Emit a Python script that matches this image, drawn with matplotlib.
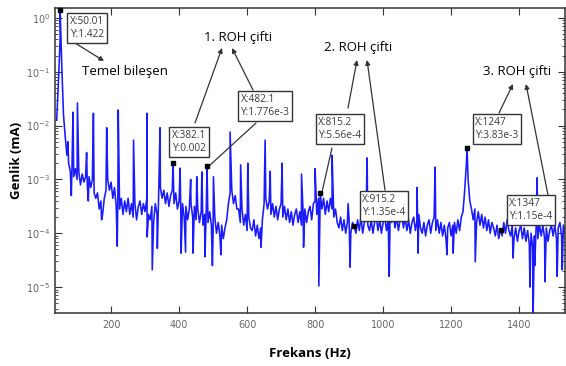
import numpy as np
import matplotlib.pyplot as plt

# spectrum baseline, log10 of amplitude, every 5 Hz starting at 40 Hz
f_start, f_step = 40, 5
base_log = [
    -1.9, -1.2, -0.4, -0.9, -1.8, -2.2, -2.55, -2.7, -2.85, -2.75, -2.95, -2.8,
    -3.0, -2.85, -3.1, -2.9, -3.05, -2.95, -3.1, -2.95, -3.15, -3.0, -3.25, -3.35, -3.25, -3.55, -3.4, -3.65, -3.35, -3.2, -3.0, -3.2,
    -3.05, -3.35, -3.15, -3.5, -3.25, -3.55, -3.35, -3.65, -3.4, -3.6, -3.35, -3.65, -3.45, -3.7, -3.45, -3.75, -3.5, -3.4, -3.65, -3.45,
    -3.6, -3.35, -3.65, -3.75, -3.5, -3.8, -3.45, -3.65, -3.25, -3.15, -3.35, -3.2, -3.45, -3.25, -3.5, -3.3, -3.2, -3.45, -3.25, -3.55,
    -3.4, -3.65, -3.45, -3.7, -3.5, -3.75, -3.55, -3.45, -3.7, -3.5, -3.75, -3.55, -3.8, -3.6, -3.85, -3.65, -3.55, -3.8, -3.6, -3.85,
    -3.95, -3.7, -4.0, -3.8, -4.05, -3.85, -4.1, -3.9, -3.75, -3.45, -3.25, -3.2, -3.45, -3.3, -3.55, -3.55, -3.8, -3.55, -3.85, -3.65,
    -3.95, -3.7, -3.9, -3.95, -3.75, -4.05, -3.85, -4.1, -3.9, -3.75, -3.45, -3.35, -3.55, -3.4, -3.65, -3.45, -3.7, -3.5, -3.75, -3.55,
    -3.45, -3.7, -3.5, -3.75, -3.55, -3.8, -3.6, -3.85, -3.65, -3.55, -3.8, -3.6, -3.85, -3.65, -3.55, -3.8, -3.6, -3.5, -3.75, -3.45,
    -3.4, -3.65, -3.35, -3.3, -3.55, -3.35, -3.65, -3.4, -3.6, -3.35, -3.55, -3.7, -3.55, -3.8, -3.9, -3.7, -3.95, -3.75, -4.0, -3.8,
    -3.75, -4.0, -3.8, -3.87, -4.0, -3.75, -3.95, -3.7, -4.0, -3.8, -3.65, -3.85, -3.95, -3.75, -4.0, -3.8, -3.7, -3.95, -3.75, -4.0,
    -3.8, -3.7, -3.95, -3.75, -4.0, -3.8, -3.65, -3.9, -3.7, -3.95, -3.75, -3.65, -3.9, -3.7, -3.95, -3.75, -4.0, -3.8, -3.7, -3.95,
    -3.75, -3.65, -3.9, -4.0, -3.8, -4.05, -3.85, -3.75, -4.0, -3.8, -3.7, -3.95, -3.75, -4.0, -3.8, -4.05, -3.85, -4.1, -3.9, -3.8,
    -4.05, -3.85, -3.8, -4.0, -3.75, -3.95, -3.7, -3.6, -3.2, -2.7, -3.0, -3.4, -3.55, -3.75, -3.55, -3.8, -3.6, -3.85, -3.65, -3.9,
    -3.7, -3.95, -3.75, -4.0, -3.8, -3.9, -4.05, -3.85, -4.1, -3.94, -4.05, -3.8, -4.0, -3.75, -3.95, -4.05, -3.85, -4.1, -3.9, -4.15,
    -3.95, -3.85, -4.1, -3.9, -4.15, -3.95, -4.2, -4.0, -4.25, -4.05, -3.9, -4.1, -3.85, -4.05, -3.85, -4.1, -3.9, -4.15, -3.95, -3.85,
    -4.05, -3.85, -4.1, -3.9, -3.8, -4.05, -3.85, -4.0,
]

# narrow harmonic spikes (Hz, log10 amplitude)
spike_freq = [73, 88, 101, 128, 148, 187, 221, 266, 305, 344, 403, 434, 452, 467, 501,
              550, 581, 602, 653, 668, 703, 760, 800, 850, 897, 953, 1020, 1100, 1153, 1453]
spike_log = [-2.3, -1.75, -1.58, -2.5, -1.77, -2.04, -1.71, -2.27, -1.77, -2.04, -2.79, -3.0, -2.95, -2.86, -2.95,
             -2.12, -2.73, -2.7, -2.27, -2.85, -2.7, -2.9, -2.8, -2.55, -3.45, -2.6, -3.35, -3.15, -2.77, -2.97]

# downward dips (Hz, log10 amplitude)
dip_freq = [83, 133, 172, 218, 306, 321, 336, 406, 419, 441, 476, 498, 523, 641, 766, 811, 903,
            1018, 1103, 1188, 1206, 1271, 1382, 1432, 1441, 1446, 1476, 1512, 1527]
dip_log = [-3.3, -3.4, -3.75, -4.24, -4.07, -4.68, -4.28, -4.37, -4.35, -4.37, -4.44, -4.6, -4.4, -4.26, -4.26, -4.98, -4.63,
           -4.8, -4.37, -4.4, -4.37, -4.53, -4.46, -5.0, -5.6, -4.6, -4.9, -4.8, -4.68]

# data tips
tip_freq = [50.01, 382.1, 482.1, 815.2, 915.2, 1247, 1347]
tip_amp = [1.422, 0.002, 1.776e-3, 5.56e-4, 1.35e-4, 3.83e-3, 1.15e-4]
tip_text = ["X:50.01\nY:1.422", "X:382.1\nY:0.002", "X:482.1\nY:1.776e-3", "X:815.2\nY:5.56e-4",
            "X:915.2\nY:1.35e-4", "X:1247\nY:3.83e-3", "X:1347\nY:1.15e-4"]
# box centres in pixels from top-left
tip_box = [(87, 28), (189, 142), (265, 106), (340, 129), (384, 206), (497, 129), (531, 210)]

x_ticks = [200, 400, 600, 800, 1000, 1200, 1400]
y_ticks = [1e0, 1e-1, 1e-2, 1e-3, 1e-4, 1e-5]
y_tick_labels = [r"$10^{0}$", r"$10^{-1}$", r"$10^{-2}$", r"$10^{-3}$", r"$10^{-4}$", r"$10^{-5}$"]

W, H = 566, 366


def px(x, y):
    return (x / W, 1 - y / H)


base_freq = f_start + f_step * np.arange(len(base_log))
freq = np.concatenate([base_freq, spike_freq, dip_freq, tip_freq])
amp = np.concatenate([10.0 ** np.array(base_log), 10.0 ** np.array(spike_log),
                      10.0 ** np.array(dip_log), tip_amp])
order = np.argsort(freq, kind="stable")

fig = plt.figure(figsize=(W / 100, H / 100), dpi=100)
ax = fig.add_axes([55 / W, 1 - 313 / H, 510 / W, 305 / H])
ax.plot(freq[order], amp[order], color="#1a1aff", lw=1.15)
ax.plot(tip_freq, tip_amp, "s", ms=2.5, color="black", zorder=5, clip_on=False)

ax.set_yscale("log")
ax.set_xlim(35, 1535)
ax.set_ylim(3.3e-6, 1.53)
ax.set_xticks(x_ticks)
ax.set_xticklabels([str(t) for t in x_ticks])
ax.set_yticks(y_ticks)
ax.set_yticklabels(y_tick_labels)
ax.tick_params(which="both", direction="in", top=True, right=True, colors="#333333",
               labelcolor="#666666", labelsize=7)
ax.tick_params(axis="x", pad=5)
ax.tick_params(which="major", length=5)
ax.tick_params(which="minor", length=2.5)
for s in ax.spines.values():
    s.set_color("#333333")
    s.set_linewidth(1.1)

ax.set_xlabel("Frekans (Hz)", fontsize=9.5, fontweight="bold", family="Open Sans", labelpad=12)
ax.set_ylabel("Genlik (mA)", fontsize=9.5, fontweight="bold", family="Open Sans", labelpad=2)

for txt, (bx, by) in zip(tip_text, tip_box):
    fig.text(*px(bx, by), txt, ha="center", va="center", ma="left", fontsize=7.3,
             family="Open Sans", color="#3a3a3a", linespacing=1.35,
             bbox=dict(boxstyle="square,pad=0.25", fc="white", ec="#333333", lw=1))


def arrow(start, end, head=True):
    style = "-|>" if head else "-"
    ax.annotate("", xy=px(*end), xycoords="figure fraction", xytext=px(*start),
                textcoords="figure fraction", annotation_clip=False,
                arrowprops=dict(arrowstyle=style, color="#333333", lw=0.9,
                                mutation_scale=7, shrinkA=0, shrinkB=0))


arrow((75, 43), (104, 61))
arrow((195, 123), (222, 48))
arrow((253, 90), (232, 48))
arrow((256, 123), (209, 166), head=False)
arrow((348, 108), (357, 60))
arrow((385, 190), (367, 60))
arrow((332, 148), (322, 192), head=False)
arrow((499, 113), (513, 84))
arrow((548, 195), (526, 84))

fig.text(*px(125, 72), "Temel bileşen", ha="center", va="center", fontsize=9.5, family="Open Sans")
fig.text(*px(238, 38), "1. ROH çifti", ha="center", va="center", fontsize=9.5, family="Open Sans")
fig.text(*px(358, 47), "2. ROH çifti", ha="center", va="center", fontsize=9.5, family="Open Sans")
fig.text(*px(517, 72), "3. ROH çifti", ha="center", va="center", fontsize=9.5, family="Open Sans")

fig.savefig("out.png", dpi=100)
